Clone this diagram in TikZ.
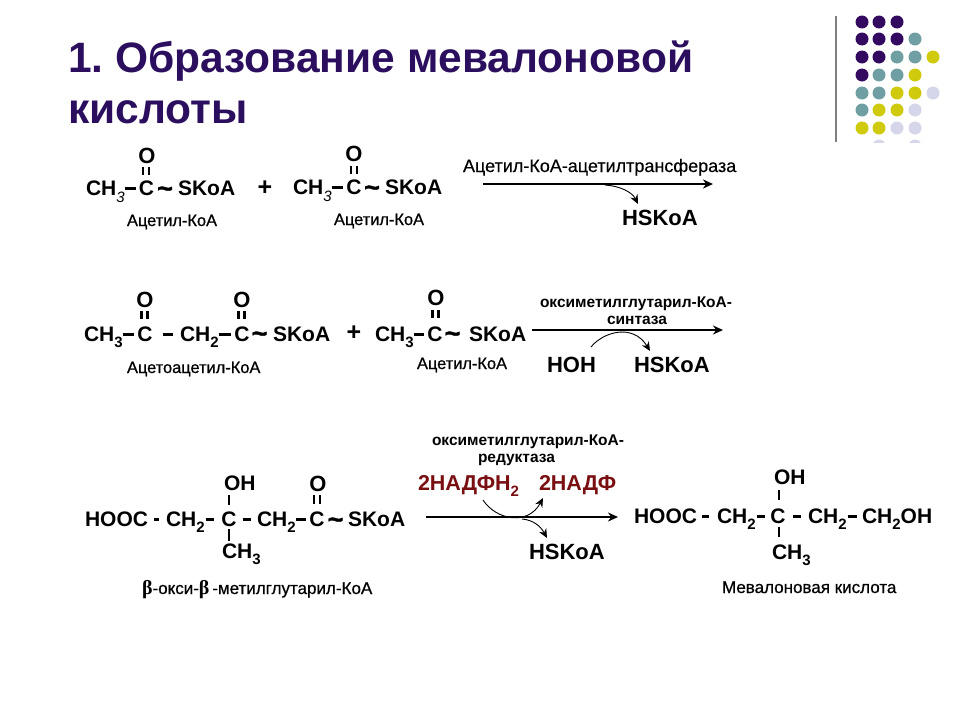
\documentclass[tikz,border=0pt]{standalone}
\usepackage{fontspec}
\setmainfont{Liberation Sans}
\newfontfamily\betafont{Liberation Serif}
\newfontfamily\heavyfont[FakeBold=1.2]{Liberation Sans Bold}
\newfontfamily\labfont[FakeBold=0.7]{Liberation Sans}
\newfontfamily\enzrfont[FakeBold=0.3]{Liberation Sans}
\usetikzlibrary{arrows.meta}
\definecolor{titlecol}{HTML}{2C0E5F}
\definecolor{dotp}{HTML}{330A5F}
\definecolor{dott}{HTML}{6F9FA3}
\definecolor{doty}{HTML}{CFCB0C}
\definecolor{dotl}{HTML}{D6D6EA}
\definecolor{redcol}{HTML}{7A0F12}
\definecolor{rulecol}{HTML}{7F7F7F}
\newcommand\sbs[1]{\raisebox{-0.3em}{\fontsize{15}{15}\selectfont #1}}
\newcommand\sbi[1]{\raisebox{-0.38em}{\fontsize{15}{15}\selectfont\mdseries\itshape #1}}
\newcommand\lnk[4]{\draw[bondline,shorten <=#3pt,shorten >=#4pt] ([yshift=7pt]#1.base east) -- ([yshift=7pt]#2.base west);}
\newcommand\btg{{\betafont\bfseries\fontsize{20}{20}\selectfont β}}
\tikzset{
  chem/.style={anchor=base west,inner sep=0pt,outer sep=0pt,text=black,font=\bfseries\fontsize{21}{24}\selectfont},
  chemc/.style={chem,anchor=base},
  chemb/.style={chem,font=\bfseries\fontsize{22}{24}\selectfont},
  ox/.style={anchor=center,inner sep=0pt,outer sep=0pt,font=\bfseries\fontsize{22}{24}\selectfont},
  wavesign/.style={anchor=center,inner sep=0pt,outer sep=0pt,font=\heavyfont\fontsize{27}{27}\selectfont},
  lab/.style={anchor=base west,inner sep=0pt,outer sep=0pt,text=black,font=\labfont\fontsize{16.4}{18}\selectfont},
  labw/.style={lab,font=\labfont\fontsize{17}{18}\selectfont},
  enz/.style={anchor=base west,inner sep=0pt,outer sep=0pt,text=black,font=\bfseries\fontsize{15.5}{18}\selectfont},
  enzr/.style={anchor=base west,inner sep=0pt,outer sep=0pt,text=black,font=\enzrfont\fontsize{18}{20}\selectfont},
  cof/.style={anchor=base west,inner sep=0pt,outer sep=0pt,text=redcol,font=\bfseries\fontsize{21.5}{24}\selectfont},
  ttl/.style={anchor=base west,inner sep=0pt,outer sep=0pt,text=titlecol,font=\bfseries\fontsize{42.5}{44}\selectfont},
  bondline/.style={line width=3pt,black},
  vbond/.style={line width=2pt,black},
  dbl/.style={line width=2.2pt,black},
  rx/.style={line width=2pt,black,-{Stealth[length=10pt,width=9pt]}},
  curvearrow/.style={line width=0.9pt,black,-{Stealth[length=9pt,width=8pt]}},
  dotc/.style={circle,minimum size=13pt,inner sep=0pt,draw=none}
}
\frenchspacing
\begin{document}
\begin{tikzpicture}[x=1pt,y=-1pt]
\useasboundingbox (0,0) rectangle (960,720);
\fill[white] (0,0) rectangle (960,720);

% title
\node[ttl] (t1) at (68,72) {1. Образование мевалоновой};
\node[ttl] (t2) at (68,123) {кислоты};

% decoration
\draw[rulecol,line width=2pt] (836,16) -- (836,142);
\begin{scope}
\clip (840,10) rectangle (950,142);
\foreach \x/\y/\c in {862/22/dotp,879/22/dotp,897/22/dotp,
  862/39/dotp,879/39/dotp,897/39/dotp,915/39/dott,
  862/57/dotp,879/57/dotp,897/57/dott,915/57/dott,933/57/doty,
  862/75/dotp,879/75/dott,897/75/dott,915/75/doty,
  862/93/dott,879/93/dott,897/93/doty,915/93/doty,933/93/dotl,
  862/110/dott,879/110/doty,897/110/doty,915/110/dotl,
  862/128/doty,879/128/doty,897/128/dotl,915/128/dotl,
  879/146/dotl,915/146/dotl}
  \node[dotc,fill=\c] at (\x,\y) {};
\end{scope}

% row 1 -----------------------------------------------
\node[chem] (a1) at (86,195) {CH\sbi{3}};
\node[chemc] (a2) at (146.5,195) {C};
\node[ox] (a3) at (147,156) {O};
\node[wavesign] (a4) at (165,192) {\textasciitilde};
\node[chem] (a5) at (178,195) {SKoA};
\lnk{a1}{a2}{0}{3}
\draw[dbl] (143,167) -- (143,175) (149,167) -- (149,175);
\node[lab] at (127,226) {Ацетил-КоА};
\node[ox,font=\bfseries\fontsize{25}{25}\selectfont] (plus1) at (265,188) {+};
\node[chem] (b1) at (293,194) {CH\sbi{3}};
\node[chemc] (b2) at (354,194) {C};
\node[ox] (b3) at (354,154) {O};
\node[wavesign] (b4) at (372,191) {\textasciitilde};
\node[chem] (b5) at (385,194) {SKoA};
\lnk{b1}{b2}{0}{3}
\draw[dbl] (351,166) -- (351,174) (357,166) -- (357,174);
\node[lab] at (334,225) {Ацетил-КоА};
\node[enzr] (e1) at (463,172) {Ацетил-КоА-ацетилтрансфераза};
\coordinate (r1s) at (483,184);
\coordinate (r1e) at (713,184);
\draw[rx] (r1s) -- (r1e);
\node[chemb] (h1) at (622,225) {HSKoA};
\coordinate (c1s) at (605,185);
\coordinate (c1e) at (638,204);
\draw[curvearrow] (c1s) .. controls (620,186) and (632,192) .. (c1e);

% row 2 -----------------------------------------------
\node[chem] (d1) at (84,341) {CH\sbs{3}};
\node[chemc] (d2) at (145,341) {C};
\node[ox] (d3) at (145,300) {O};
\node[chem] (d4) at (180,341) {CH\sbs{2}};
\node[chemc] (d5) at (242,341) {C};
\node[ox] (d6) at (242,300) {O};
\node[wavesign] (d7) at (259.5,337) {\textasciitilde};
\node[chem] (d8) at (273,341) {SKoA};
\lnk{d1}{d2}{0}{3}
\lnk{d2}{d4}{10}{7}
\lnk{d4}{d5}{0}{3}
\draw[dbl] (141.5,311) -- (141.5,319) (147.5,311) -- (147.5,319);
\draw[dbl] (238.5,311) -- (238.5,319) (244.5,311) -- (244.5,319);
\node[lab] at (127,373) {Ацетоацетил-КоА};
\node[ox,font=\bfseries\fontsize{25}{25}\selectfont] (plus2) at (354,333) {+};
\node[chem] (f1) at (375,341) {CH\sbs{3}};
\node[chemc] (f2) at (435,341) {C};
\node[ox] (f3) at (436,298) {O};
\node[wavesign] (f4) at (452.5,337) {\textasciitilde};
\node[chem] (f5) at (469,341) {SKoA};
\lnk{f1}{f2}{0}{3}
\draw[dbl] (432.5,310) -- (432.5,318) (438.5,310) -- (438.5,318);
\node[lab] at (417,369) {Ацетил-КоА};
\node[enz] (e2) at (540,307) {оксиметилглутарил-КоА-};
\node[enz] (e2b) at (607,324) {синтаза};
\coordinate (r2s) at (532,330);
\coordinate (r2e) at (723,330);
\draw[rx] (r2s) -- (r2e);
\node[chemb] (h2a) at (547,372) {HOH};
\node[chemb] (h2b) at (634,372) {HSKoA};
\coordinate (c2s) at (591,347);
\coordinate (c2e) at (650,351);
\draw[curvearrow] (c2s) .. controls (603,332) and (633,323) .. (c2e);

% row 3 -----------------------------------------------
\node[chem] (g1) at (85,526) {HOOC};
\node[chem] (g2) at (166,526) {CH\sbs{2}};
\node[chemc] (g3) at (229,526) {C};
\node[chem] (g4) at (224,490) {OH};
\node[chem] (g5) at (222,558) {CH\sbs{3}};
\node[chem] (g6) at (257,526) {CH\sbs{2}};
\node[chemc] (g7) at (317,526) {C};
\node[ox] (g8) at (318,484) {O};
\node[wavesign] (g9) at (335.5,523) {\textasciitilde};
\node[chem] (g10) at (348,526) {SKoA};
\lnk{g1}{g2}{6}{7}
\lnk{g2}{g3}{1}{7}
\lnk{g3}{g6}{6}{6}
\lnk{g6}{g7}{0}{3}
\draw[vbond] (229,495) -- (229,505);
\draw[vbond] (229,529) -- (229,541);
\draw[dbl] (314,495) -- (314,504) (320,495) -- (320,504);
\node[labw] (b1lab) at (142,594) {\btg-окси-\btg\,-метилглутарил-КоА};
\node[enz] (e3) at (432,445) {оксиметилглутарил-КоА-};
\node[enz] (e3b) at (478,462) {редуктаза};
\node[cof] (n1) at (418,490) {2НАДФН\sbs{2}};
\node[cof] (n2) at (539,490) {2НАДФ};
\coordinate (r3s) at (426,517);
\coordinate (r3e) at (618,517);
\draw[rx] (r3s) -- (r3e);
\coordinate (c3s) at (483,500);
\coordinate (c3e) at (543,498);
\draw[curvearrow] (c3s) .. controls (496,520) and (528,526) .. (c3e);
\coordinate (c4s) at (522,519);
\coordinate (c4e) at (547,538);
\draw[curvearrow] (c4s) .. controls (534,520) and (541,527) .. (c4e);
\node[chemb] (h3) at (529,559) {HSKoA};

% product -----------------------------------------------
\node[chem] (m1) at (634,523) {HOOC};
\node[chem] (m2) at (717,523) {CH\sbs{2}};
\node[chemc] (m3) at (778,523) {C};
\node[chem] (m4) at (774,484) {OH};
\node[chem] (m5) at (772,559) {CH\sbs{3}};
\node[chem] (m6) at (808,523) {CH\sbs{2}};
\node[chem] (m7) at (862,523) {CH\sbs{2}OH};
\lnk{m1}{m2}{5}{8}
\lnk{m2}{m3}{1}{5}
\lnk{m3}{m6}{7}{7}
\lnk{m6}{m7}{1}{5}
\draw[vbond] (779,490) -- (779,500);
\draw[vbond] (779,527) -- (779,537);
\node[labw] at (722,593) {Мевалоновая кислота};
\end{tikzpicture}
\end{document}
